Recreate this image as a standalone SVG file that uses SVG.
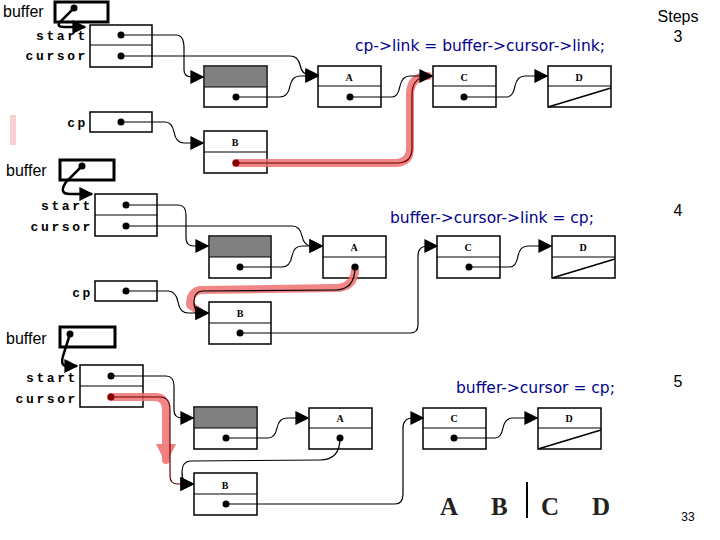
<svg xmlns="http://www.w3.org/2000/svg" width="720" height="540" viewBox="0 0 720 540">
<defs>
<marker id="ar" viewBox="0 0 10 10" refX="9" refY="5" markerWidth="5" markerHeight="5" orient="auto" markerUnits="userSpaceOnUse"><path d="M0,0L10,5L0,10z" fill="#000"/></marker>
<marker id="ab" viewBox="0 0 10 10" refX="9" refY="5" markerWidth="14" markerHeight="14" orient="auto" markerUnits="userSpaceOnUse"><path d="M0,0L10,5L0,10z" fill="#000"/></marker>
<marker id="ared" viewBox="0 0 10 10" refX="8" refY="5" markerWidth="20" markerHeight="20" orient="auto" markerUnits="userSpaceOnUse"><path d="M0,0L10,5L0,10z" fill="#f08080"/></marker>
</defs>
<style>
.lbl{font-family:"Liberation Sans",Arial,sans-serif;font-size:16px;fill:#000}
.code{font-family:"DejaVu Sans",Verdana,sans-serif;font-size:15.5px;fill:#00008b}
.fld{font-family:"Liberation Mono","Courier New",monospace;font-weight:bold;font-size:13px;letter-spacing:2.6px;text-anchor:end;fill:#000}
.nl{font-family:"Liberation Serif",serif;font-weight:bold;font-size:10px;text-anchor:middle;fill:#000}
.box{fill:#fff;stroke:#000;stroke-width:1.5}
.hbox{fill:#fff;stroke:#000;stroke-width:3}
.gray{fill:#808080}
.ln{fill:none;stroke:#000;stroke-width:1.2}
.bl{fill:none;stroke:#000;stroke-width:2.5}
.red{fill:none;stroke:#f07070;stroke-opacity:0.85;stroke-width:8;stroke-linecap:round;stroke-linejoin:round}
.rt{fill:none;stroke:#600;stroke-width:1.2}
.dot{fill:#000}
.big{font-family:"Liberation Serif",serif;font-weight:bold;font-size:25px;fill:#222}
</style>
<rect width="720" height="540" fill="#fff"/>
<rect x="10" y="115" width="6" height="30" fill="#f4b0b0" opacity="0.6"/>
<!-- panel 1 -->
<g id="p1-buffer"><text class="lbl" x="3" y="17">buffer</text><rect class="hbox" x="55" y="2" width="53" height="20"/></g>
<g id="p1-header"><rect class="box" x="90" y="25" width="62" height="42"/><line class="ln" x1="90" y1="45" x2="152" y2="45"/><text class="fld" x="88" y="40">start</text><text class="fld" x="88" y="60">cursor</text></g>
<g id="p1-dummy"><rect class="box" x="204" y="66" width="63" height="41"/><rect class="gray" x="205" y="67" width="61" height="20"/><line class="ln" x1="204" y1="87" x2="267" y2="87"/></g>
<g id="p1-A"><rect class="box" x="318" y="66" width="63" height="41"/><line class="ln" x1="318" y1="86" x2="381" y2="86"/><text class="nl" x="349" y="81">A</text></g>
<g id="p1-C"><rect class="box" x="433" y="66" width="63" height="41"/><line class="ln" x1="433" y1="86" x2="496" y2="86"/><text class="nl" x="464" y="81">C</text></g>
<g id="p1-D"><rect class="box" x="548" y="66" width="63" height="41"/><line class="ln" x1="548" y1="86" x2="611" y2="86"/><line class="ln" x1="548" y1="107" x2="611" y2="88" style="stroke-width:1.6"/><text class="nl" x="579" y="81">D</text></g>
<g id="p1-cp"><rect class="box" x="90" y="112" width="62" height="20"/><text class="fld" x="88" y="127">cp</text></g>
<g id="p1-B"><rect class="box" x="204" y="131" width="63" height="42"/><line class="ln" x1="204" y1="152" x2="267" y2="152"/><text class="nl" x="235" y="146">B</text></g>
<text class="code" x="355" y="51">cp-&gt;link = buffer-&gt;cursor-&gt;link;</text>
<text class="lbl" x="678" y="22" text-anchor="middle">Steps</text><text class="lbl" x="678" y="42" text-anchor="middle">3</text>
<!-- panel 2 -->
<g id="p2-buffer"><text class="lbl" x="6" y="176">buffer</text><rect class="hbox" x="60" y="160" width="54" height="20"/></g>
<g id="p2-header"><rect class="box" x="95" y="194" width="62" height="42"/><line class="ln" x1="95" y1="215" x2="157" y2="215"/><text class="fld" x="93" y="210">start</text><text class="fld" x="93" y="231">cursor</text></g>
<g id="p2-dummy"><rect class="box" x="209" y="236" width="62" height="42"/><rect class="gray" x="210" y="237" width="60" height="20"/><line class="ln" x1="209" y1="257" x2="271" y2="257"/></g>
<g id="p2-A"><rect class="box" x="323" y="236" width="63" height="42"/><line class="ln" x1="323" y1="257" x2="386" y2="257"/><text class="nl" x="354" y="251">A</text></g>
<g id="p2-C"><rect class="box" x="437" y="236" width="63" height="42"/><line class="ln" x1="437" y1="257" x2="500" y2="257"/><text class="nl" x="468" y="251">C</text></g>
<g id="p2-D"><rect class="box" x="552" y="236" width="63" height="42"/><line class="ln" x1="552" y1="257" x2="615" y2="257"/><line class="ln" x1="552" y1="278" x2="615" y2="259" style="stroke-width:1.6"/><text class="nl" x="583" y="251">D</text></g>
<g id="p2-cp"><rect class="box" x="95" y="281" width="62" height="20"/><text class="fld" x="93" y="297">cp</text></g>
<g id="p2-B"><rect class="box" x="209" y="302" width="62" height="42"/><line class="ln" x1="209" y1="323" x2="271" y2="323"/><text class="nl" x="240" y="317">B</text></g>
<text class="code" x="390" y="223">buffer-&gt;cursor-&gt;link = cp;</text>
<text class="lbl" x="678" y="216" text-anchor="middle">4</text>
<!-- panel 3 -->
<g id="p3-buffer"><text class="lbl" x="6" y="344">buffer</text><rect class="hbox" x="60" y="327" width="55" height="20"/></g>
<g id="p3-header"><rect class="box" x="80" y="365" width="63" height="42"/><line class="ln" x1="80" y1="386" x2="143" y2="386"/><text class="fld" x="78" y="382">start</text><text class="fld" x="78" y="403">cursor</text></g>
<g id="p3-dummy"><rect class="box" x="194" y="407" width="63" height="42"/><rect class="gray" x="195" y="408" width="61" height="20"/><line class="ln" x1="194" y1="428" x2="257" y2="428"/></g>
<g id="p3-A"><rect class="box" x="309" y="408" width="63" height="41"/><line class="ln" x1="309" y1="428" x2="372" y2="428"/><text class="nl" x="340" y="422">A</text></g>
<g id="p3-C"><rect class="box" x="423" y="408" width="63" height="41"/><line class="ln" x1="423" y1="428" x2="486" y2="428"/><text class="nl" x="454" y="422">C</text></g>
<g id="p3-D"><rect class="box" x="538" y="408" width="63" height="41"/><line class="ln" x1="538" y1="428" x2="601" y2="428"/><line class="ln" x1="538" y1="449" x2="601" y2="430" style="stroke-width:1.6"/><text class="nl" x="569" y="422">D</text></g>
<g id="p3-B"><rect class="box" x="194" y="473" width="63" height="42"/><line class="ln" x1="194" y1="494" x2="257" y2="494"/><text class="nl" x="225" y="489">B</text></g>
<text class="code" x="456" y="393">buffer-&gt;cursor = cp;</text>
<text class="lbl" x="678" y="387" text-anchor="middle">5</text>
<g id="legend"><text class="big" x="440" y="515">A</text><text class="big" x="491" y="515">B</text><line x1="527" y1="482" x2="527" y2="518" stroke="#000" stroke-width="2"/><text class="big" x="541" y="515">C</text><text class="big" x="592" y="515">D</text></g>
<text x="688" y="521" text-anchor="middle" style="font-family:'Liberation Sans',sans-serif;font-size:12px">33</text>
<g id="connectors">
<path class="red" d="M236,163 H395 Q410,163 410,148 V95 Q410,76 428,76"/>
<path class="rt" d="M236,163 H397 Q412,163 412,148 V95 Q412,76 430,76"/>
<path class="red" d="M355,268 Q355,288 335,288 L200,290 Q190,292 190,305 L200,312"/>
<path class="red" d="M111,397 H155 Q166,397 166,410 V460" marker-end="url(#ared)"/>
<path class="bl" d="M74,8 L60,22 Q56,27 64,27 L85,27" marker-end="url(#ab)"/>
<path class="ln" d="M121,35 H176 Q184,35 184,48 V70 Q184,77 192,77 H203" marker-end="url(#ab)"/>
<path class="ln" d="M121,56 H290 Q298,56 300,65 Q302,75 310,75 H318" marker-end="url(#ab)"/>
<path class="ln" d="M236,97 H280 Q288,97 290,86 Q292,76 300,76 H318" marker-end="url(#ab)"/>
<path class="ln" d="M350,97 H392 Q398,97 400,86 Q402,76 410,76 H432" marker-end="url(#ab)"/>
<path class="ln" d="M464,97 H507 Q513,97 515,86 Q517,76 525,76 H547" marker-end="url(#ab)"/>
<path class="ln" d="M121,122 H165 Q172,122 174,132 Q176,143 184,143 H203" marker-end="url(#ab)"/>
<path class="bl" d="M82,166 L66,182 Q58,194 70,194 L92,194" marker-end="url(#ab)"/>
<path class="ln" d="M126,205 H178 Q186,205 186,215 V238 Q186,246 194,246 H208" marker-end="url(#ab)"/>
<path class="ln" d="M126,226 H292 Q300,226 302,236 Q304,246 312,246 H322" marker-end="url(#ab)"/>
<path class="ln" d="M240,267 H282 Q290,267 292,256 Q294,246 302,246 H322" marker-end="url(#ab)"/>
<path class="ln" d="M355,267 Q355,290 335,290 L202,291 Q194,292 194,302 Q194,313 202,313 H208" marker-end="url(#ab)"/>
<path class="ln" d="M126,291 H168 Q176,291 178,302 Q180,313 188,313 H208" marker-end="url(#ab)"/>
<path class="ln" d="M240,333 H410 Q418,333 418,325 V256 Q418,246 428,246 H437" marker-end="url(#ab)"/>
<path class="ln" d="M469,267 H510 Q516,267 518,256 Q520,246 528,246 H551" marker-end="url(#ab)"/>
<path class="bl" d="M70,334 L63,356 Q60,367 68,366 L77,366" marker-end="url(#ab)"/>
<path class="ln" d="M111,376 H166 Q174,376 174,386 V410 Q174,418 182,418 H193" marker-end="url(#ab)"/>
<path class="rt" d="M111,397 H160 Q170,397 170,410 V476 Q170,484 178,484 H193" marker-end="url(#ab)"/>
<path class="ln" d="M226,438 H268 Q275,438 277,428 Q279,418 287,418 H308" marker-end="url(#ab)"/>
<path class="ln" d="M340,438 Q340,460 320,460 L190,461 Q182,462 182,472 Q182,484 190,484 H193" marker-end="url(#ab)"/>
<path class="ln" d="M226,504 H395 Q403,504 403,494 V428 Q403,418 413,418 H423" marker-end="url(#ab)"/>
<path class="ln" d="M454,438 H495 Q501,438 503,428 Q505,418 513,418 H537" marker-end="url(#ab)"/>
</g>
<g id="dots">
<circle class="dot" cx="74" cy="8" r="3.5"/><circle class="dot" cx="121" cy="35" r="3.5"/><circle class="dot" cx="121" cy="56" r="3.5"/><circle class="dot" cx="236" cy="97" r="3.5"/><circle class="dot" cx="350" cy="97" r="3.5"/><circle class="dot" cx="464" cy="97" r="3.5"/><circle class="dot" cx="121" cy="122" r="3.5"/><circle cx="236" cy="163" r="3.5" fill="#800"/>
<circle class="dot" cx="82" cy="166" r="3.5"/><circle class="dot" cx="126" cy="205" r="3.5"/><circle class="dot" cx="126" cy="226" r="3.5"/><circle class="dot" cx="240" cy="267" r="3.5"/><circle class="dot" cx="355" cy="267" r="3.5"/><circle class="dot" cx="469" cy="267" r="3.5"/><circle class="dot" cx="126" cy="291" r="3.5"/><circle class="dot" cx="240" cy="333" r="3.5"/>
<circle class="dot" cx="70" cy="334" r="3.5"/><circle class="dot" cx="111" cy="376" r="3.5"/><circle cx="111" cy="397" r="3.5" fill="#800"/><circle class="dot" cx="226" cy="438" r="3.5"/><circle class="dot" cx="340" cy="438" r="3.5"/><circle class="dot" cx="454" cy="438" r="3.5"/><circle class="dot" cx="226" cy="504" r="3.5"/>
</g>
</svg>
